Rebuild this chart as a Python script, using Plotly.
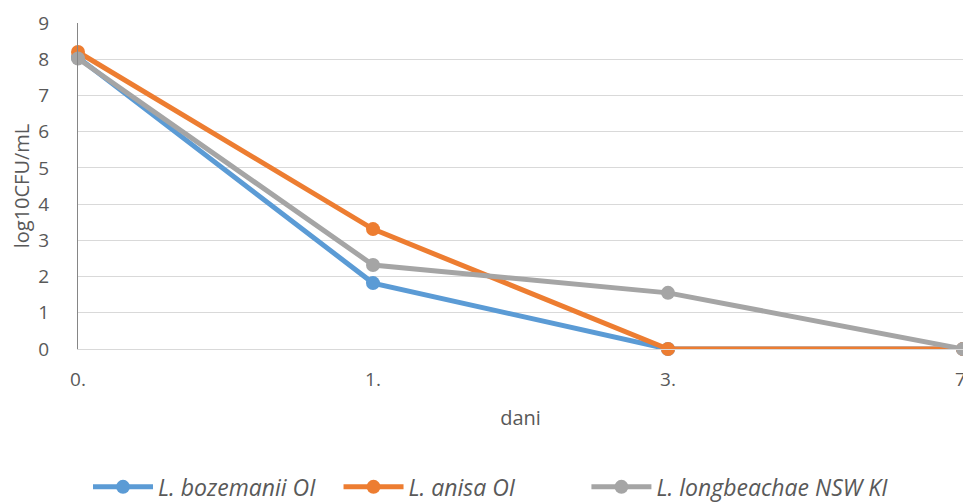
import plotly.graph_objects as go

days = ["0.", "1.", "3.", "7."]
bozemanii = [8.05, 1.82, 0.0, 0.0]
anisa = [8.2, 3.31, 0.0, 0.0]
longbeachae = [8.02, 2.32, 1.55, 0.0]

names = ["L. bozemanii OI", "L. anisa OI", "L. longbeachae NSW KI"]
colors = ["#5B9BD5", "#ED7D31", "#A5A5A5"]
legend_ids = ["legend", "legend2", "legend3"]
legend_x = [0.0824, 0.3404, 0.5957]

fig = go.Figure()
for name, vals, c, lg in zip(names, [bozemanii, anisa, longbeachae], colors, legend_ids):
    fig.add_trace(go.Scatter(
        x=list(range(len(days))), y=vals, name=name, mode="lines+markers",
        line=dict(color=c, width=5), marker=dict(color=c, size=14),
        cliponaxis=False, legend=lg,
    ))

font_fam = "Open Sans, Liberation Sans, sans-serif"
legend_common = dict(orientation="h", xref="container", yref="container",
                     y=0.046, yanchor="middle", xanchor="left",
                     font=dict(size=23, color="#595959", style="italic"),
                     itemwidth=60, bgcolor="rgba(0,0,0,0)")
legends = {lg: dict(x=lx, **legend_common) for lg, lx in zip(legend_ids, legend_x)}

fig.update_layout(
    width=971, height=502,
    margin=dict(l=70, r=16, t=15, b=161),
    plot_bgcolor="white", paper_bgcolor="white",
    font=dict(family=font_fam, size=19, color="#595959"),
    showlegend=True,
    **legends,
    xaxis=dict(
        tickmode="array", tickvals=list(range(len(days))), ticktext=days,
        range=[0, 3], showgrid=False, zeroline=False, automargin=False,
        showline=True, linecolor="#D9D9D9", linewidth=1,
        ticks="", tickfont=dict(size=19, color="#595959"), ticklabelstandoff=13,
        ticklabeloverflow="allow",
        title=dict(text="dani", font=dict(size=20, color="#595959"), standoff=20),
    ),
    yaxis=dict(
        range=[0, 9], dtick=1, showgrid=True, gridcolor="#D9D9D9", gridwidth=1,
        zeroline=False, showline=True, linecolor="#868686", linewidth=1,
        automargin=False,
        ticks="", tickfont=dict(size=19, color="#595959"), ticklabelstandoff=24,
        title=dict(text="log10CFU/mL", font=dict(size=20, color="#595959"), standoff=16),
    ),
)
fig.write_html("out.html")
